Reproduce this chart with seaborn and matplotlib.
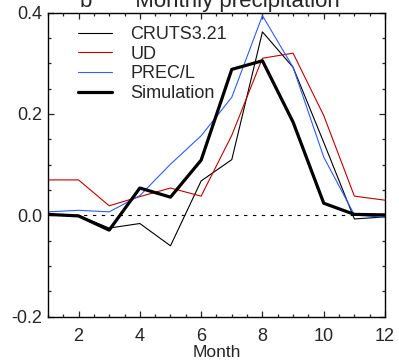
import numpy as np
import pandas as pd
import matplotlib
matplotlib.use("Agg")
import matplotlib.pyplot as plt
import seaborn as sns

# --- Data ---
months = list(range(1, 13))
cruts = [0.000, 0.000, -0.025, -0.016, -0.060, 0.068, 0.110, 0.362, 0.292, 0.144, -0.007, -0.003]
ud = [0.070, 0.070, 0.019, 0.037, 0.054, 0.038, 0.158, 0.310, 0.320, 0.197, 0.038, 0.030]
precl = [0.007, 0.010, 0.007, 0.039, 0.101, 0.157, 0.233, 0.394, 0.292, 0.115, 0.001, -0.004]
simulation = [0.002, -0.001, -0.029, 0.054, 0.036, 0.109, 0.288, 0.305, 0.184, 0.024, 0.002, 0.001]

series_names = ["CRUTS3.21", "UD", "PREC/L", "Simulation"]
series_values = [cruts, ud, precl, simulation]
colors = {"CRUTS3.21": "black", "UD": "#c00000", "PREC/L": "#2f5cff", "Simulation": "black"}
widths = {"CRUTS3.21": 0.8, "UD": 0.8, "PREC/L": 0.8, "Simulation": 2.3}

rows = []
for name, vals in zip(series_names, series_values):
    for m, v in zip(months, vals):
        rows.append({"Month": m, "Value": v, "Series": name})
df = pd.DataFrame(rows)

sns.set_style("ticks")
plt.rcParams["font.family"] = ["Liberation Sans", "DejaVu Sans"]
plt.rcParams["font.size"] = 13

fig = plt.figure(figsize=(3.99, 3.6), dpi=100)
ax = fig.add_axes([0.120, 0.120, 0.845, 0.845])

ax.axhline(0, color="black", lw=0.8, ls=(0, (3, 5)))
for name in series_names:
    sns.lineplot(data=df[df["Series"] == name], x="Month", y="Value",
                 color=colors[name], lw=widths[name], label=name, ax=ax)

ax.set_xlim(1, 12)
ax.set_ylim(-0.2, 0.4)
ax.set_xticks([2, 4, 6, 8, 10, 12])
ax.set_xticks(np.arange(1, 12.01, 0.5), minor=True)
ax.set_yticks([-0.2, 0.0, 0.2, 0.4])
ax.set_yticklabels(["-0.2", "0.0", "0.2", "0.4"])
ax.set_yticks(np.arange(-0.2, 0.401, 0.05), minor=True)
ax.tick_params(which="both", direction="in", top=True, right=True, labelsize=13)
ax.tick_params(axis="x", pad=8)
ax.tick_params(axis="y", pad=4)
ax.tick_params(which="major", length=4.5, width=0.9)
ax.tick_params(which="minor", length=2.5, width=0.9)
for s in ax.spines.values():
    s.set_linewidth(1.0)
    s.set_color("black")

ax.set_xlabel("Month", fontsize=12.5, labelpad=0)
ax.set_ylabel("")
fig.text(80 / 399, 1 - 7 / 360, "b       Monthly precipitation", fontsize=16,
         ha="left", va="baseline")

leg = ax.legend(loc="upper left", bbox_to_anchor=(0.068, 0.980), frameon=False,
                fontsize=13, handlelength=1.9, handletextpad=1.0,
                labelspacing=0.15, borderaxespad=0)

fig.savefig("out.png", dpi=100)
